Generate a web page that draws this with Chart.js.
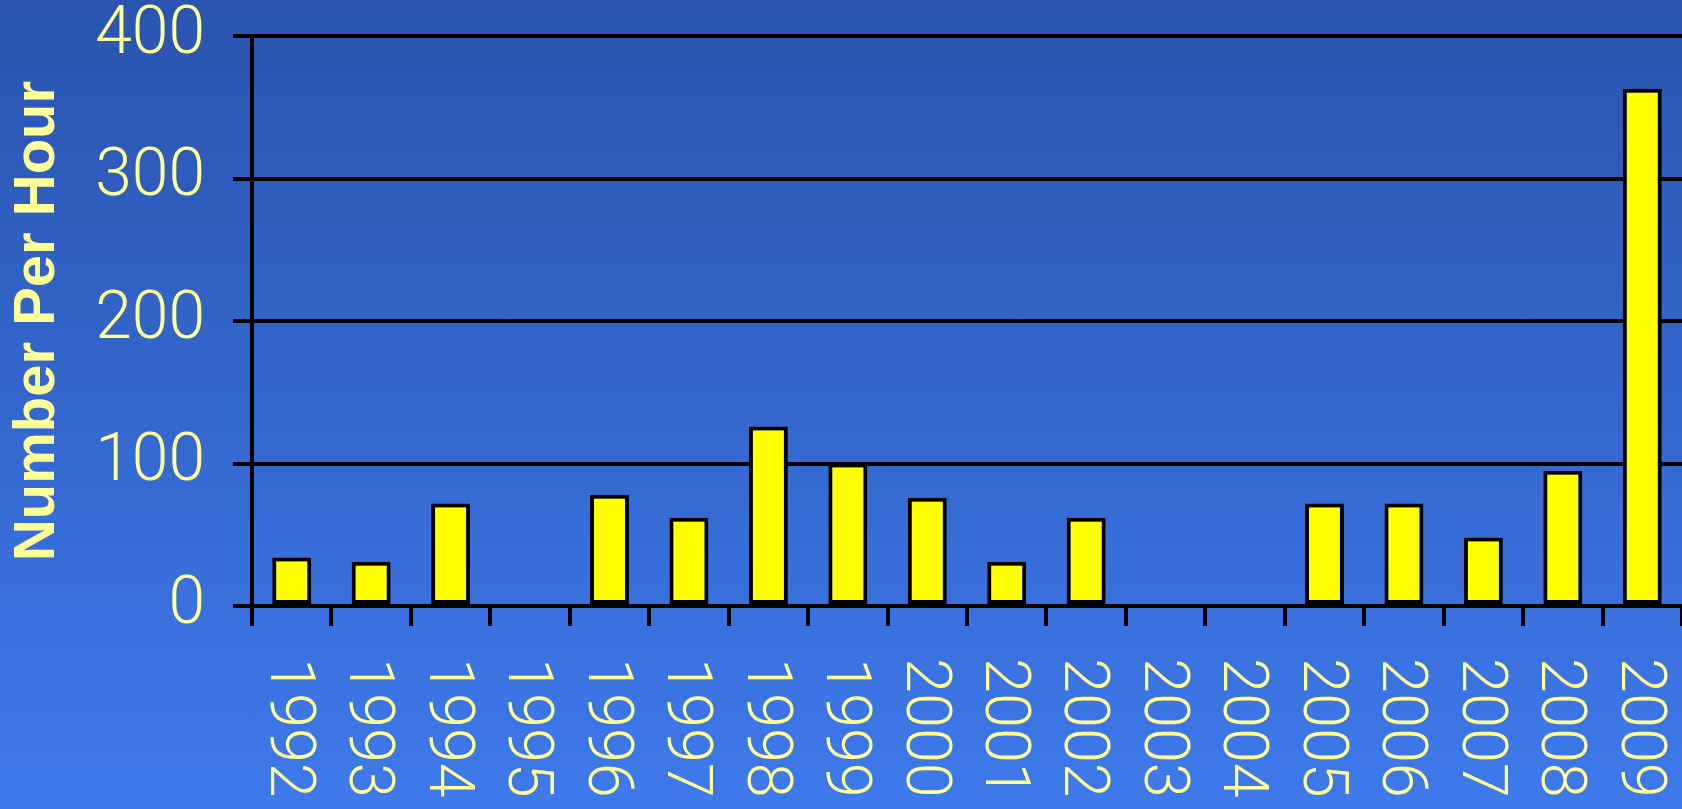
<!DOCTYPE html>
<html>
<head>
<meta charset="utf-8">
<script src="https://cdn.jsdelivr.net/npm/chart.js@4.4.0/dist/chart.umd.min.js"></script>
<style>
  html, body { margin: 0; padding: 0; overflow: hidden; }
  body { width: 1682px; height: 809px; background: linear-gradient(to bottom, #2a54af, #3e7aec); }
  canvas { display: block; }
</style>
</head>
<body>
<canvas id="rateChart" width="1682" height="809"></canvas>
<script>
const years = ['1992', '1993', '1994', '1995', '1996', '1997', '1998', '1999', '2000',
  '2001', '2002', '2003', '2004', '2005', '2006', '2007', '2008', '2009'];
// no bar for 1995, 2003, 2004
const numberPerHour = [34, 31, 72, null, 78, 62, 126, 100, 76, 31, 62, null, null, 72, 72, 48, 95, 363];
const yTicks = [0, 100, 200, 300, 400];

const paleYellow = '#ffff99';

// year labels read top-to-bottom, chart.js rotation goes the other way, so draw them here
const verticalYearLabels = {
  id: 'verticalYearLabels',
  afterDraw(chart) {
    const ctx = chart.ctx;
    const xScale = chart.scales.x;
    ctx.save();
    ctx.fillStyle = paleYellow;
    ctx.font = '300 63px Roboto';
    ctx.textAlign = 'left';
    ctx.textBaseline = 'middle';
    years.forEach((year, i) => {
      ctx.save();
      ctx.translate(xScale.getPixelForTick(i) - 5, xScale.top + 52);
      ctx.rotate(Math.PI / 2);
      ctx.fillText(year, 0, 0);
      ctx.restore();
    });
    ctx.restore();
  }
};

document.addEventListener("DOMContentLoaded", () => {
  const ctx = document.getElementById('rateChart').getContext('2d');

  new Chart(ctx, {
    type: 'bar',
    data: {
      labels: years,
      datasets: [{
        data: numberPerHour,
        backgroundColor: '#ffff00',
        borderColor: '#000000',
        borderWidth: 4,
        borderSkipped: false,
        barPercentage: 0.49,
        categoryPercentage: 1
      }]
    },
    options: {
      responsive: false,
      animation: false,
      layout: { padding: { top: 36, right: 0, bottom: 0, left: 0 } },
      plugins: { legend: { display: false }, tooltip: { enabled: false } },
      scales: {
        x: {
          offset: true,
          grid: { drawOnChartArea: false, drawTicks: true, tickLength: 20, color: '#000', lineWidth: 4, offset: true },
          border: { display: true, color: '#000', width: 4 },
          ticks: { display: false },
          afterFit: scale => { scale.height = 203; }
        },
        y: {
          min: yTicks[0],
          max: yTicks[yTicks.length - 1],
          afterBuildTicks: axis => { axis.ticks = yTicks.map(v => ({ value: v })); },
          grid: { color: '#000', lineWidth: 4, tickLength: 19, drawTicks: true },
          border: { display: true, color: '#000', width: 4 },
          ticks: {
            color: paleYellow,
            padding: 28,
            font: { family: 'Roboto', size: 66, weight: 300, lineHeight: 1 }
          },
          title: {
            display: true,
            text: 'Number Per Hour',
            color: paleYellow,
            padding: { top: 3, bottom: 0 },
            font: { family: 'Liberation Sans', size: 58, weight: 'bold' }
          },
          afterFit: scale => {
            scale.width = 252;
            // tick padding would otherwise push the plot top down
            scale.paddingTop = 0;
            scale.paddingBottom = 0;
          }
        }
      }
    },
    plugins: [verticalYearLabels]
  });
});
</script>
</body>
</html>
